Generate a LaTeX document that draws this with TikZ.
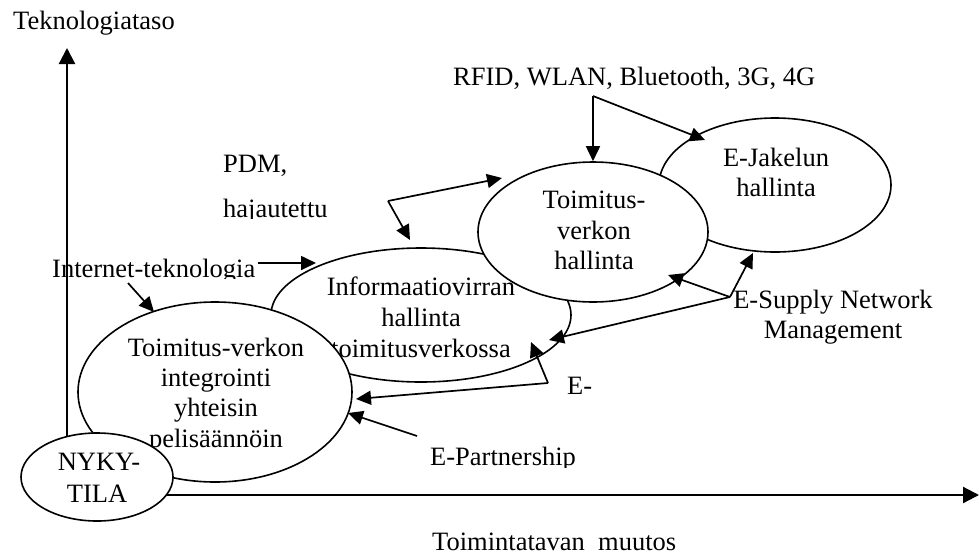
\documentclass[tikz,border=0pt]{standalone}
\usepackage{fontspec}
\setmainfont{Liberation Serif}
\usetikzlibrary{arrows.meta,shapes.geometric}
\begin{document}
\begin{tikzpicture}[x=1pt,y=-1pt,
  bubble/.style={draw, fill=white, ellipse, line width=1.6pt, inner sep=0pt},
  lbl/.style={inner sep=0pt, anchor=base, font=\fontsize{26.5pt}{31pt}\selectfont},
  lblw/.style={lbl, anchor=base west},
  arr/.style={line width=1.7pt, -{Triangle[length=15pt,width=14pt]}},
  axisline/.style={line width=2.2pt, -{Triangle[length=16pt,width=16pt]}}]
\useasboundingbox (0,0) rectangle (979,555);

% axes (their feet are hidden under the NYKY-TILA bubble)
\coordinate (yfoot) at (67,477);
\coordinate (ytop) at (67,48);
\coordinate (xfoot) at (97,495);
\coordinate (xend) at (979,495);
\draw[axisline] (yfoot) -- (ytop);
\draw[axisline] (xfoot) -- (xend);

% E-Jakelun hallinta
\node[bubble, minimum width=232, minimum height=134] (ej) at (775,185) {};
\node[lbl] (ej1) at (776,166) {E-Jakelun};
\node[lbl] (ej2) at (776,196) {hallinta};

% Informaatiovirran hallinta
\node[bubble, minimum width=300, minimum height=134] (iv) at (421,315) {};
\node[lbl] (iv1) at (421,295) {Informaatiovirran};
\node[lbl] (iv2) at (421,326) {hallinta};
\node[lbl] (iv3) at (421,357) {toimitusverkossa};

% Toimitus-verkon hallinta
\node[bubble, minimum width=230, minimum height=140] (tv) at (593,232) {};
\node[lbl] (tv1) at (594,208) {Toimitus-};
\node[lbl] (tv2) at (594,239) {verkon};
\node[lbl] (tv3) at (594,269) {hallinta};

% Toimitus-verkon integrointi
\node[bubble, minimum width=274, minimum height=180] (in) at (215,392) {};
\node[lbl] (in1) at (216,356) {Toimitus-verkon};
\node[lbl] (in2) at (216,386) {integrointi};
\node[lbl] (in3) at (216,416) {yhteisin};
\begin{scope}
  \clip (100,420) rectangle (340,449);
  \node[lbl] (in4) at (216,447) {pelisäännöin};
\end{scope}

% NYKY-TILA
\node[bubble, minimum width=152, minimum height=88] (ny) at (97,477) {};
\node[lbl] (ny1) at (99,470) {NYKY-};
\node[lbl] (ny2) at (97,502) {TILA};

% axis titles
\node[lblw] (tek) at (13,29) {Teknologiataso};
\node[lblw] (muu) at (432,550) {Toimintatavan\ \ muutos};

% technology labels
\node[lblw] (rfid) at (453,85) {RFID, WLAN, Bluetooth, 3G, 4G};
\node[lblw] (pdm) at (223,172) {PDM,};
\begin{scope}
  \clip (200,190) rectangle (400,218);
  \node[lblw] (haj) at (223,217) {hajautettu};
\end{scope}
\begin{scope}
  \clip (40,240) rectangle (300,278);
  \node[lblw] (inet) at (52,277) {Internet-teknologia};
\end{scope}
\node[lbl] (es1) at (833,308) {E-Supply Network};
\node[lbl] (es2) at (833,338) {Management};
\node[lblw] (ee) at (567,394) {E-};
\begin{scope}
  \clip (420,430) rectangle (600,467);
  \node[lblw] (ep) at (430,465) {E-Partnership};
\end{scope}

% connectors: RFID, WLAN ...
\coordinate (rfk) at (593,96);
\coordinate (rfej) at (705,140);
\draw[arr] (rfk) -- (tv.north);
\draw[arr] (rfk) -- (rfej);

% connectors: PDM, hajautettu
\coordinate (pdk) at (388,201);
\coordinate (pdtv) at (502,178);
\coordinate (pdiv) at (410,240);
\draw[arr] (pdk) -- (pdtv);
\draw[arr] (pdk) -- (pdiv);

% connectors: Internet-teknologia
\coordinate (itA) at (258,263);
\coordinate (itiv) at (316,263);
\coordinate (itB) at (128,283);
\coordinate (itin) at (154,312);
\draw[arr] (itA) -- (itiv);
\draw[arr] (itB) -- (itin);

% connectors: E-Supply Network Management
\coordinate (esk) at (730,297);
\coordinate (esej) at (753,253);
\coordinate (estv) at (668,275);
\coordinate (esiv) at (549,340);
\draw[arr] (esk) -- (esej);
\draw[arr] (esk) -- (estv);
\draw[arr] (esk) -- (esiv);

% connectors: E-
\coordinate (eek) at (548,383);
\coordinate (eeiv) at (531,342);
\coordinate (eein) at (356,399);
\draw[arr] (eek) -- (eeiv);
\draw[arr] (eek) -- (eein);

% connector: E-Partnership
\coordinate (epk) at (417,436);
\coordinate (epin) at (348,413);
\draw[arr] (epk) -- (epin);
\end{tikzpicture}
\end{document}
